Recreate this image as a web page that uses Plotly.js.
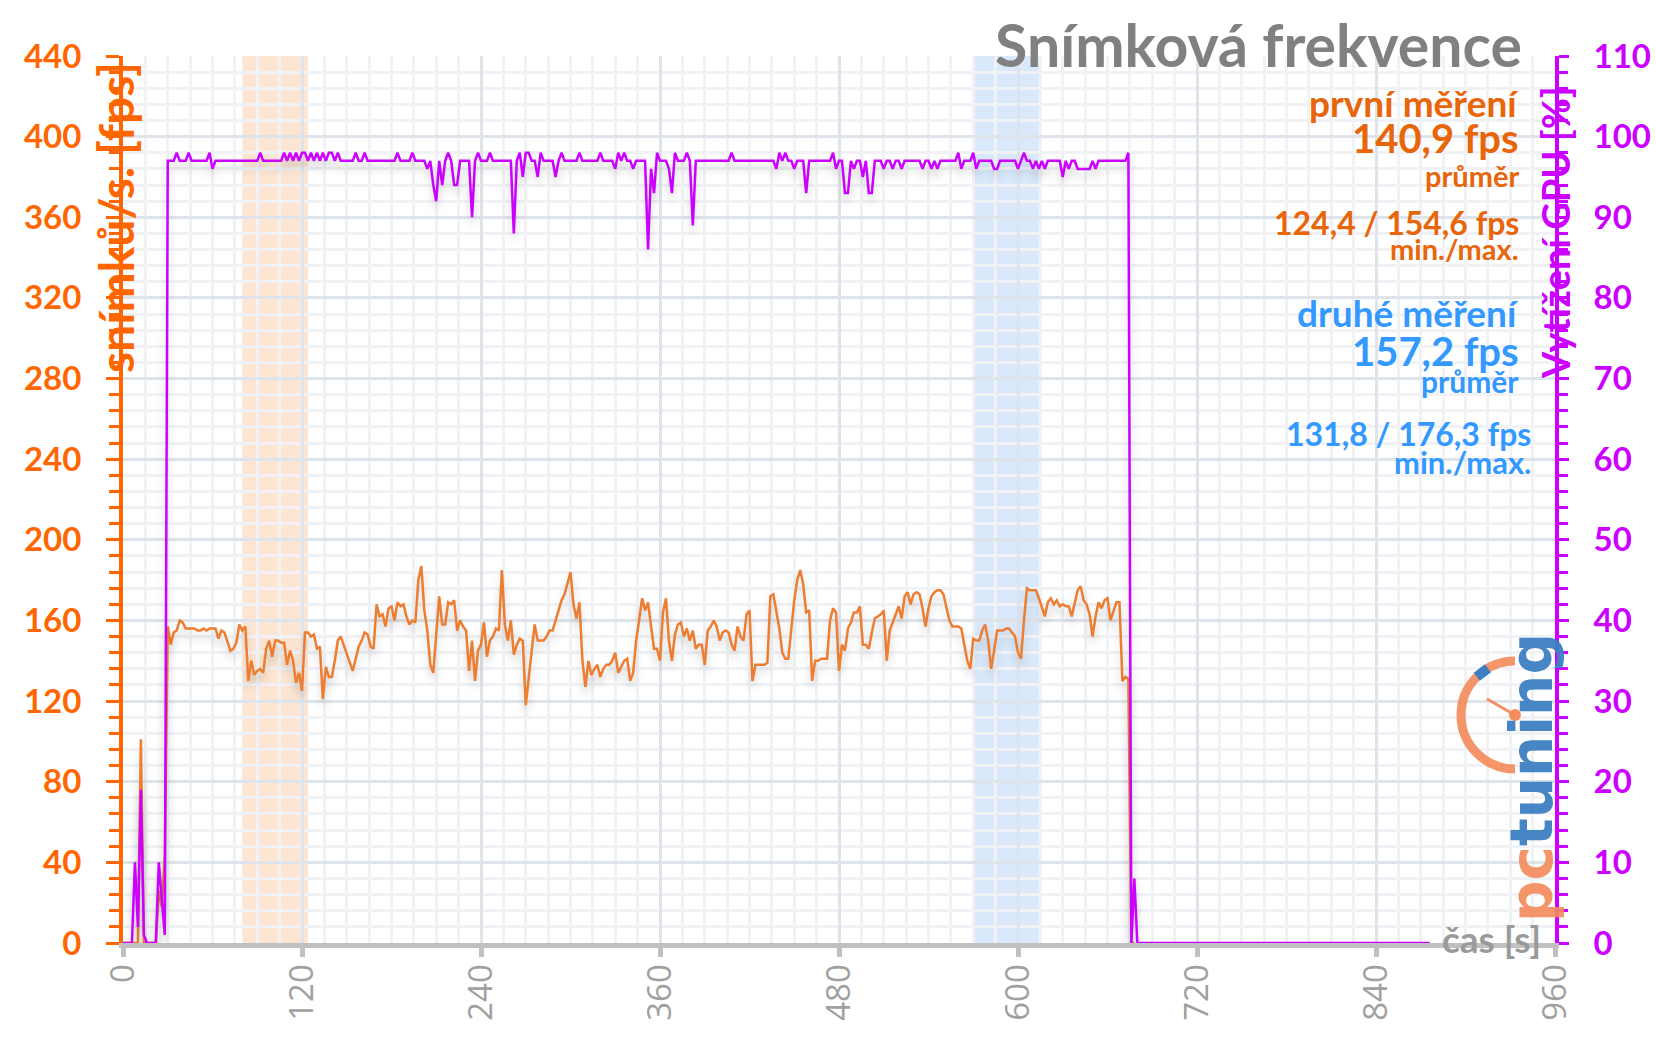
<!DOCTYPE html>
<html>
<head>
<meta charset="utf-8">
<script src="https://cdn.plot.ly/plotly-3.0.1.min.js"></script>
<style>
  html, body { margin: 0; padding: 0; background: #ffffff; }
  #chart { width: 1656px; height: 1044px; }
  .scatterlayer .js-line { filter: drop-shadow(0px 7px 4px rgba(0,0,0,0.18)); }
</style>
</head>
<body>
<div id="chart"></div>
<script>
// ---------------- DATA ----------------
// sampling interval of the log (seconds)
const sampleStep = 2;

// frame rate [fps], one value every 2 s starting at t = 0 s
const fps = [
  0,0,0,0,0,0,101,0,0,0,
  0,0,26,18,44,157,148,154,155,160,
  159,156,156,156,156,155,155,156,155,156,
  156,156,151,155,154,149,145,146,149,158,
  155,157,130,140,133,135,136,134,146,150,
  142,150,150,149,149,138,145,140,129,134,
  125,154,154,152,153,146,147,121,137,132,
  132,140,150,152,148,143,139,135,141,147,
  150,154,153,147,146,168,162,163,157,166,
  167,160,169,167,168,162,158,160,159,180,
  187,165,155,138,134,155,172,158,158,169,
  168,170,155,160,157,155,135,150,130,145,
  148,159,142,150,152,156,155,185,158,150,
  160,143,148,151,150,118,133,145,158,150,
  150,150,152,155,155,160,165,170,173,178,
  184,168,161,169,140,127,140,133,136,138,
  132,136,138,138,140,144,134,137,140,141,
  130,134,150,160,171,165,169,157,146,146,
  140,164,171,150,140,153,158,159,152,156,
  150,155,146,148,148,138,155,157,160,157,
  150,154,155,154,148,145,157,152,150,163,
  165,130,138,138,138,138,139,172,173,165,
  156,144,141,141,155,170,180,185,178,164,
  165,130,140,140,141,141,141,160,166,164,
  135,148,145,156,159,164,164,167,148,148,
  146,154,161,162,163,165,140,155,159,164,
  167,161,172,174,168,173,174,173,166,157,
  166,172,174,175,175,173,166,160,157,157,
  157,156,148,140,136,151,150,150,155,158,
  150,136,145,155,155,155,156,156,154,152,
  144,141,160,176,175,175,175,171,167,162,
  169,171,168,170,167,168,167,167,162,168,
  175,177,170,168,163,152,162,169,166,170,
  171,160,165,169,169,130,132,131,0,0
];

// GPU load [%], one value every 2 s starting at t = 0 s
const gpuLoad = [
  0,0,0,0,10,2,19,1,0,0,
  0,0,10,6,1,97,97,97,98,97,
  97,97,98,97,97,97,97,97,97,98,
  96,97,97,97,97,97,97,97,97,97,
  97,97,97,97,97,97,98,97,97,97,
  97,97,97,97,98,97,98,97,98,97,
  98,98,97,98,97,98,97,98,97,98,
  98,97,98,97,97,97,97,97,98,97,
  97,98,97,97,97,97,97,97,97,97,
  97,97,98,97,97,97,97,98,97,97,
  97,97,96,97,94,92,97,94,97,98,
  97,94,94,97,97,97,97,90,97,98,
  97,97,97,98,97,97,97,97,97,97,
  97,88,97,98,95,98,98,97,97,95,
  98,97,97,97,97,95,97,98,97,97,
  97,97,97,98,97,97,97,97,97,97,
  98,97,97,97,97,96,98,97,98,97,
  97,96,97,97,97,97,86,96,93,98,
  97,97,97,96,93,98,97,97,97,98,
  97,89,97,97,97,97,97,97,97,97,
  97,97,97,97,98,97,97,97,97,97,
  97,97,97,97,97,97,97,97,97,96,
  98,97,98,97,97,96,97,97,97,93,
  97,97,97,97,97,97,97,97,98,96,
  97,97,93,93,97,96,97,97,95,97,
  93,93,97,97,97,96,97,97,96,97,
  97,96,97,97,97,97,97,97,96,97,
  97,96,97,96,97,97,97,97,97,97,
  98,96,97,97,97,98,96,97,97,97,
  97,97,96,96,97,97,97,97,97,97,
  96,97,98,97,97,96,97,96,97,96,
  97,97,97,97,97,95,97,96,97,97,
  96,96,96,96,96,97,96,97,97,97,
  97,97,97,97,97,97,97,98,0,8,
  0,0,0,0,0,0,0,0,0,0,
  0,0,0,0,0,0,0,0,0,0,
  0,0,0,0,0,0,0,0,0,0,
  0,0,0,0,0,0,0,0,0,0,
  0,0,0,0,0,0,0,0,0,0,
  0,0,0,0,0,0,0,0,0,0,
  0,0,0,0,0,0,0,0,0,0,
  0,0,0,0,0,0,0,0,0,0,
  0,0,0,0,0,0,0,0,0,0,
  0,0,0,0,0,0,0,0,0
];

// measurement windows [start, end] in seconds
const firstRun = [80, 124];
const secondRun = [570, 614];

// axis ticks
const timeTicks = [0, 120, 240, 360, 480, 600, 720, 840, 960];
const fpsTicks = [0, 40, 80, 120, 160, 200, 240, 280, 320, 360, 400, 440];
const gpuTicks = [0, 10, 20, 30, 40, 50, 60, 70, 80, 90, 100, 110];

// texts
const chartTitle = 'Snímková frekvence';
const run1 = { name: 'první měření', avg: '140,9 fps', avgLabel: 'průměr', minmax: '124,4 / 154,6 fps', mmLabel: 'min./max.' };
const run2 = { name: 'druhé měření', avg: '157,2 fps', avgLabel: 'průměr', minmax: '131,8 / 176,3 fps', mmLabel: 'min./max.' };
const yTitle = 'snímků/s. [fps]';
const y2Title = 'Vytížení GPU [%]';
const xTitle = 'čas [s]';

// ---------------- LAYOUT ----------------
const L = 123, T = 56, W = 1432, H = 887;
const px = X => (X - L) / W;
const py = Y => (T + H - Y) / H;

const FONT = 'Lato, "Noto Sans", sans-serif';
const ORANGE_TXT = '#e8650a';
const BLUE_TXT = '#3399ff';
const MAJOR_GRID = '#dfe3ea';
const MINOR_GRID = '#f0f2f5';

const traces = [
  { type: 'scatter', mode: 'lines', x0: 0, dx: sampleStep, y: fps, yaxis: 'y',
    line: { color: '#ed7d31', width: 2.5 }, hoverinfo: 'skip', showlegend: false },
  { type: 'scatter', mode: 'lines', x0: 0, dx: sampleStep, y: gpuLoad, yaxis: 'y2',
    line: { color: '#cc00ff', width: 2.5 }, hoverinfo: 'skip', showlegend: false }
];

function txt(text, X, Y, size, color, opts) {
  return Object.assign({
    text: text, xref: 'paper', yref: 'paper', x: px(X), y: py(Y),
    xanchor: 'right', yanchor: 'middle', showarrow: false, align: 'right',
    font: { family: FONT, size: size, color: color, weight: 'bold' }
  }, opts || {});
}

const annotations = [
  txt(run1.name, 1521, 103, 37, ORANGE_TXT),
  txt(run1.avg, 1521, 138, 40, ORANGE_TXT),
  txt(run1.avgLabel, 1521, 175, 29, ORANGE_TXT),
  txt(run1.minmax, 1521, 223, 32, ORANGE_TXT),
  txt(run1.mmLabel, 1521, 249, 29, ORANGE_TXT),
  txt(run2.name, 1521, 312, 37, BLUE_TXT),
  txt(run2.avg, 1521, 351, 40, BLUE_TXT),
  txt(run2.avgLabel, 1521, 381, 30, BLUE_TXT),
  txt(run2.minmax, 1533, 433, 32, BLUE_TXT),
  txt(run2.mmLabel, 1533, 462, 31, BLUE_TXT),
  txt(yTitle, 116, 218, 48, '#ff6600', { xanchor: 'center', textangle: -90 }),
  txt(y2Title, 1555, 233, 38, '#cc00ff', { xanchor: 'center', textangle: -90 }),
  txt(xTitle, 1543, 938, 37, '#9a9a9a'),
  txt('<span style="color:rgba(244,137,90,0.9)">pc</span><span style="color:rgba(61,127,193,0.95)">tuning</span>',
      1532, 778, 58, '#3d7fc1', { xanchor: 'center', textangle: -90,
      font: { family: '"DejaVu Sans", sans-serif', size: 58, weight: 'bold', color: '#3d7fc1' } })
];

const gaugeAnchor = { xref: 'paper', yref: 'paper', xsizemode: 'pixel', ysizemode: 'pixel',
                      xanchor: px(1515), yanchor: py(715) };
const shapes = [
  { type: 'rect', xref: 'x', yref: 'paper', x0: firstRun[0], x1: firstRun[1], y0: 0, y1: 1,
    fillcolor: 'rgba(247,180,120,0.33)', line: { width: 0 }, layer: 'between' },
  { type: 'rect', xref: 'x', yref: 'paper', x0: secondRun[0], x1: secondRun[1], y0: 0, y1: 1,
    fillcolor: 'rgba(119,175,239,0.28)', line: { width: 0 }, layer: 'between' },
  Object.assign({ type: 'path', path: 'M 0,54 C -29.8,54 -54,29.8 -54,0 C -54,-29.8 -29.8,-54 0,-54',
    line: { color: 'rgba(244,137,90,0.9)', width: 9 }, layer: 'above' }, gaugeAnchor),
  Object.assign({ type: 'path', path: 'M -27,46.8 L -38.2,38.2',
    line: { color: '#3d7fc1', width: 10 }, layer: 'above' }, gaugeAnchor),
  Object.assign({ type: 'path', path: 'M 0,0 L -28,16',
    line: { color: 'rgba(244,137,90,0.95)', width: 3 }, layer: 'above' }, gaugeAnchor),
  Object.assign({ type: 'circle', x0: -6, x1: 6, y0: -6, y1: 6,
    fillcolor: 'rgba(244,137,90,0.95)', line: { width: 0 }, layer: 'above' }, gaugeAnchor)
];

const layout = {
  width: 1656, height: 1044,
  margin: { l: L, r: 1656 - L - W, t: T, b: 1044 - T - H, pad: 0 },
  paper_bgcolor: '#ffffff', plot_bgcolor: '#ffffff',
  showlegend: false,
  title: { text: chartTitle, xref: 'container', yref: 'container', x: 1522 / 1656, xanchor: 'right',
           y: 1 - 46 / 1044, yanchor: 'middle',
           font: { family: FONT, size: 59, color: '#808080', weight: 'bold' } },
  xaxis: {
    range: [0, 960], tickmode: 'array', tickvals: timeTicks, ticktext: timeTicks.map(String),
    tickangle: -90, tickfont: { family: '"Open Sans", sans-serif', size: 33, color: '#a0a0a0' },
    ticks: 'outside', ticklen: 9, tickwidth: 5, tickcolor: '#c0c0c0', ticklabelstandoff: -6,
    showline: true, linecolor: '#c0c0c0', linewidth: 5, zeroline: false,
    showgrid: true, gridcolor: MAJOR_GRID, gridwidth: 3,
    minor: { dtick: 15, showgrid: true, gridcolor: MINOR_GRID, gridwidth: 3, ticks: '' }
  },
  yaxis: {
    range: [0, 440], tickmode: 'array', tickvals: fpsTicks, ticktext: fpsTicks.map(String),
    tickfont: { family: FONT, size: 33, color: '#ff6600', weight: 'bold' },
    ticks: 'outside', ticklen: 13, tickwidth: 3, tickcolor: '#ff6600', ticklabelstandoff: 18,
    showline: true, linecolor: '#ff6600', linewidth: 4, zeroline: false,
    showgrid: true, gridcolor: MAJOR_GRID, gridwidth: 3,
    minor: { dtick: 8, ticks: 'outside', ticklen: 10, tickwidth: 3, tickcolor: '#ff6600',
             showgrid: true, gridcolor: MINOR_GRID, gridwidth: 3 }
  },
  yaxis2: {
    overlaying: 'y', side: 'right', range: [0, 110], tickmode: 'array', tickvals: gpuTicks,
    ticktext: gpuTicks.map(String),
    tickfont: { family: FONT, size: 33, color: '#cc00ff', weight: 'bold' },
    ticks: 'outside', ticklen: 10, tickwidth: 3, tickcolor: '#cc00ff', ticklabelstandoff: 18,
    showline: true, linecolor: '#cc00ff', linewidth: 4, zeroline: false, showgrid: false,
    minor: { dtick: 2, ticks: 'outside', ticklen: 9, tickwidth: 3, tickcolor: '#cc00ff', showgrid: false }
  },
  yaxis3: {
    overlaying: 'y', side: 'left', range: [0, 440], tickmode: 'array', tickvals: fpsTicks,
    showticklabels: false, ticks: 'inside', ticklen: 12, tickwidth: 3, tickcolor: '#ff6600',
    showline: false, showgrid: false, zeroline: false
  },
  yaxis4: {
    overlaying: 'y', side: 'right', range: [0, 110], tickmode: 'array', tickvals: gpuTicks,
    showticklabels: false, ticks: 'inside', ticklen: 12, tickwidth: 3, tickcolor: '#cc00ff',
    showline: false, showgrid: false, zeroline: false
  },
  shapes: shapes,
  annotations: annotations
};

Plotly.newPlot('chart', traces, layout, { displayModeBar: false, staticPlot: true });
</script>
</body>
</html>
